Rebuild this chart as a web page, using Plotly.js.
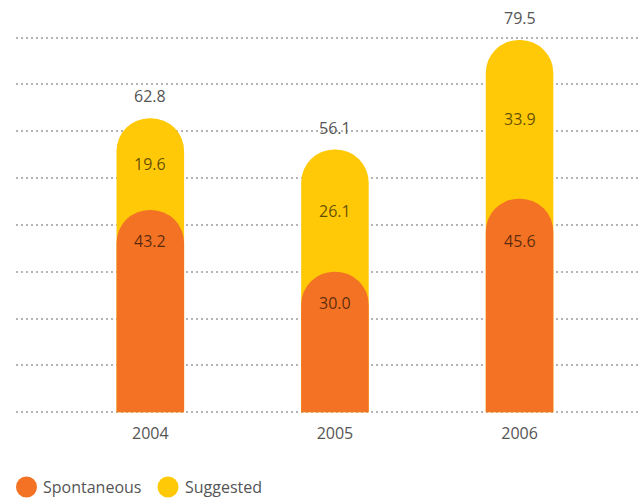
<!DOCTYPE html>
<html>
<head>
<meta charset="utf-8">
<script src="https://cdn.plot.ly/plotly-3.0.1.min.js"></script>
<style>html,body{margin:0;padding:0;background:#fff;}#chart{width:641px;height:499px;}</style>
</head>
<body>
<div id="chart"></div>
<script>
const years = ['2004', '2005', '2006'];
const spontaneous = [43.2, 30.0, 45.6];
const suggested = [19.6, 26.1, 33.9];
const totals = [62.8, 56.1, 79.5];
const seriesNames = ['Spontaneous', 'Suggested'];

const colSpont = '#F37224';
const colSugg = '#FFC908';
const textCol = 'rgba(0,0,0,0.63)';
const font = "'Open Sans', 'DejaVu Sans', sans-serif";

const W = 641, H = 499;
const M = {l: 16, r: 2, t: 10, b: 84};
const yRange = [-0.6, 85.9];
const xRange = [-0.7275, 2.647];
const plotH = H - M.t - M.b, plotW = W - M.l - M.r;
const pxToPaperX = px => (px - M.l) / plotW;
const pxToPaperY = py => (H - M.b - py) / plotH;
const orangeLabelShift = [-31, -31, -42];
const barW = 0.366;

const traces = [
  {type: 'bar', x: years, y: totals, name: seriesNames[1], width: barW,
   marker: {color: colSugg, cornerradius: '50%'}, hoverinfo: 'skip', showlegend: false},
  {type: 'bar', x: years, y: spontaneous, name: seriesNames[0], width: barW, xaxis: 'x2',
   marker: {color: colSpont, cornerradius: '50%'}, hoverinfo: 'skip', showlegend: false}
];

const annotations = [];
years.forEach((yr, i) => {
  annotations.push({x: i, y: totals[i], xref: 'x', yref: 'y', yshift: 22, showarrow: false,
    text: totals[i].toFixed(1), font: {family: font, size: 16, color: '#555'}});
  annotations.push({x: i, y: spontaneous[i] + suggested[i] / 2, xref: 'x', yref: 'y', showarrow: false,
    text: suggested[i].toFixed(1), font: {family: font, size: 16, color: textCol}});
  annotations.push({x: i, y: spontaneous[i], xref: 'x', yref: 'y', yshift: orangeLabelShift[i], showarrow: false,
    text: spontaneous[i].toFixed(1), font: {family: font, size: 16, color: textCol}});
});

const legendItems = [
  {name: seriesNames[0], color: colSpont, cx: 26.5, tx: 41},
  {name: seriesNames[1], color: colSugg, cx: 168, tx: 183}
];
const legY = 487;
const shapes = [];
legendItems.forEach(it => {
  shapes.push({type: 'circle', xref: 'paper', yref: 'paper', xsizemode: 'pixel', ysizemode: 'pixel',
    xanchor: pxToPaperX(it.cx), yanchor: pxToPaperY(legY), x0: -10.5, x1: 10.5, y0: -10.5, y1: 10.5,
    fillcolor: it.color, line: {width: 0}});
  annotations.push({xref: 'paper', yref: 'paper', x: pxToPaperX(it.tx), y: pxToPaperY(legY),
    xanchor: 'left', yanchor: 'middle', showarrow: false, text: it.name,
    font: {family: font, size: 16, color: '#555'}});
});

const layout = {
  width: W, height: H, margin: M,
  paper_bgcolor: '#fff', plot_bgcolor: '#fff',
  barmode: 'overlay', showlegend: false,
  font: {family: font, size: 16, color: '#555'},
  xaxis: {type: 'category', range: xRange, showgrid: false, zeroline: false,
    showline: false, ticks: '', ticklabelstandoff: 7, tickfont: {family: font, size: 16, color: '#555'}},
  xaxis2: {type: 'category', range: xRange, overlaying: 'x', visible: false, showgrid: false, zeroline: false},
  yaxis: {range: yRange, dtick: 10, tick0: 0, showgrid: true, gridcolor: '#b4b4b4', gridwidth: 2,
    griddash: '2px,3px', zeroline: false, showline: false, showticklabels: false, ticks: ''},
  shapes: shapes,
  annotations: annotations
};

Plotly.newPlot('chart', traces, layout, {displayModeBar: false, staticPlot: true});
</script>
</body>
</html>
